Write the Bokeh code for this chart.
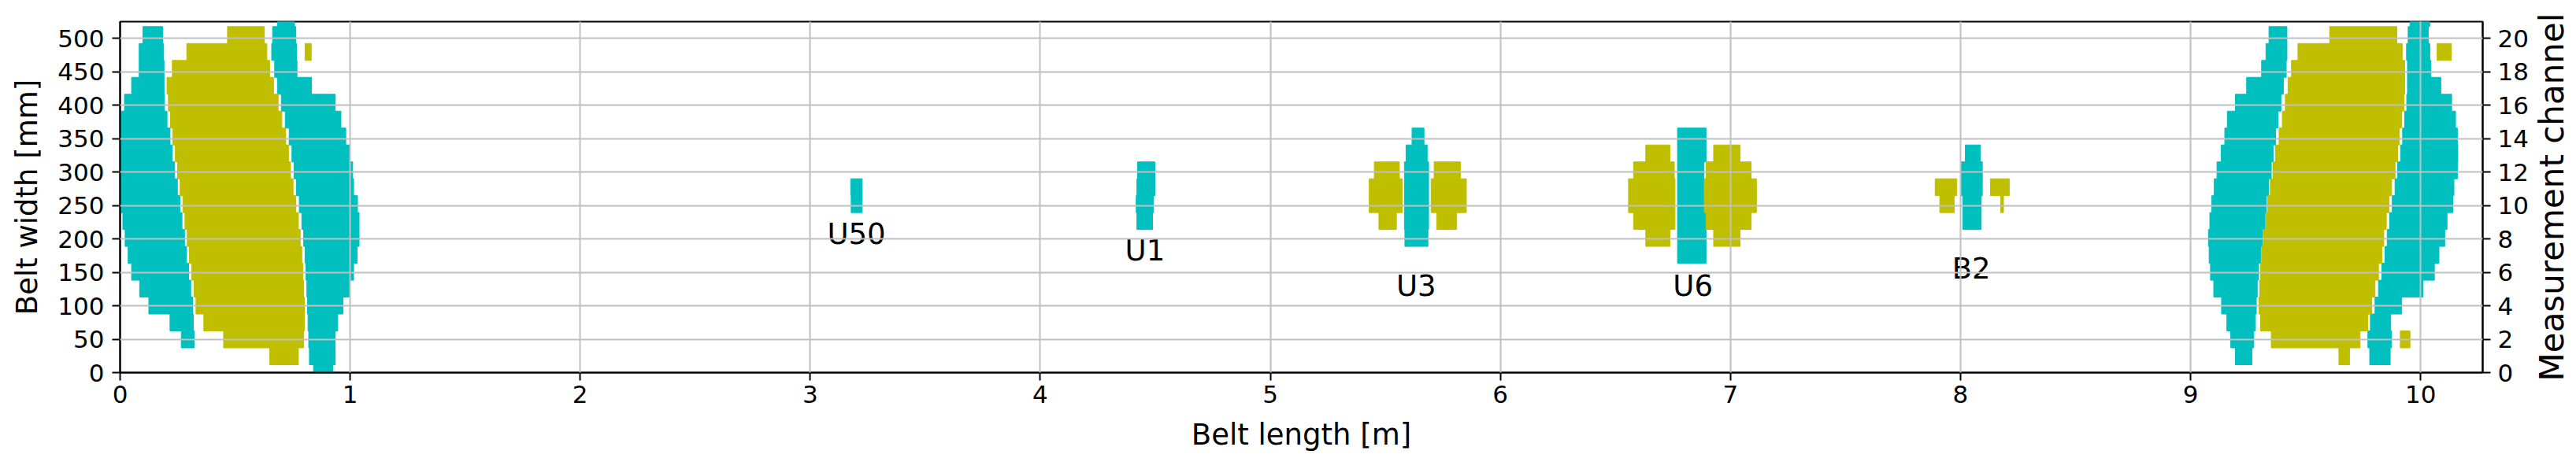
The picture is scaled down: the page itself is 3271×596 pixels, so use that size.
import math
from bokeh.plotting import figure
from bokeh.layouts import row
from bokeh.models import Range1d, LinearAxis, FixedTicker, Title
from bokeh.embed import file_html
from bokeh.resources import INLINE
from bokeh.core.properties import value

CYAN = "#00bfbf"
OLIVE = "#bfbf00"
FONT = "DejaVu Sans"

# channel pitch on the belt (mm) and offset of channel centres
MM_PER_CHANNEL = 25.29
CH_OFFSET_MM = -0.88

# ---------------- data (belt length in m, per measurement channel) ----------------
# left end blob
A_ch = list(range(2, 21))
A_left = [0.266, 0.217, 0.125, 0.085, 0.050, 0.035, 0.022, 0.012, 0.005, 0.0, 0.0, 0.0, 0.0, 0.007, 0.019, 0.050, 0.083, 0.083, 0.099]
A_right = [0.322, 0.318, 0.315, 0.307, 0.298, 0.289, 0.280, 0.269, 0.260, 0.249, 0.237, 0.227, 0.217, 0.204, 0.193, 0.191, 0.191, 0.189, 0.185]

B_ch = list(range(1, 21))
B_left = [0.650, 0.450, 0.364, 0.330, 0.321, 0.311, 0.301, 0.292, 0.282, 0.273, 0.261, 0.250, 0.240, 0.229, 0.219, 0.210, 0.204, 0.227, 0.290, 0.467]
B_right = [0.775, 0.798, 0.801, 0.801, 0.798, 0.795, 0.790, 0.783, 0.775, 0.764, 0.752, 0.741, 0.732, 0.720, 0.703, 0.687, 0.667, 0.650, 0.638, 0.627]

C_ch = list(range(0, 22))
C_left = [0.841, 0.823, 0.820, 0.817, 0.815, 0.812, 0.808, 0.804, 0.798, 0.790, 0.779, 0.767, 0.756, 0.747, 0.735, 0.718, 0.701, 0.684, 0.672, 0.659, 0.663, 0.684]
C_right = [0.924, 0.935, 0.935, 0.946, 0.969, 0.998, 1.015, 1.030, 1.039, 1.039, 1.032, 1.015, 1.011, 0.998, 0.981, 0.960, 0.935, 0.832, 0.769, 0.767, 0.764, 0.758]

Bs_ch = [19]
Bs_left = [0.804]
Bs_right = [0.831]

# middle objects
U50_ch = [10, 11]
U50_left = [3.178, 3.176]
U50_right = [3.226, 3.226]

U1_ch = [9, 10, 11, 12]
U1_left = [4.420, 4.417, 4.420, 4.423]
U1_right = [4.488, 4.492, 4.498, 4.498]

U3L_ch = [9, 10, 11, 12]
U3L_left = [5.472, 5.430, 5.430, 5.452]
U3L_right = [5.548, 5.574, 5.574, 5.561]
U3C_ch = [8, 9, 10, 11, 12, 13, 14]
U3C_left = [5.585, 5.583, 5.583, 5.583, 5.583, 5.590, 5.616]
U3C_right = [5.685, 5.688, 5.688, 5.688, 5.688, 5.682, 5.668]
U3R_ch = [9, 10, 11, 12]
U3R_left = [5.723, 5.699, 5.699, 5.712]
U3R_right = [5.810, 5.852, 5.852, 5.826]

U6L_ch = [8, 9, 10, 11, 12, 13]
U6L_left = [6.632, 6.579, 6.557, 6.557, 6.579, 6.632]
U6L_right = [6.737, 6.759, 6.759, 6.759, 6.756, 6.737]
U6C_ch = [7, 8, 9, 10, 11, 12, 13, 14]
U6C_left = [6.770, 6.770, 6.770, 6.770, 6.770, 6.770, 6.770, 6.770]
U6C_right = [6.894, 6.894, 6.894, 6.885, 6.885, 6.885, 6.894, 6.894]
U6R_ch = [8, 9, 10, 11, 12, 13]
U6R_left = [6.927, 6.894, 6.887, 6.887, 6.894, 6.927]
U6R_right = [7.042, 7.090, 7.113, 7.113, 7.090, 7.042]

B2C_ch = [9, 10, 11, 12, 13]
B2C_left = [8.010, 8.010, 8.001, 8.001, 8.021]
B2C_right = [8.090, 8.090, 8.095, 8.095, 8.087]
B2L_ch = [10, 11]
B2L_left = [7.910, 7.890]
B2L_right = [7.973, 7.984]
B2R_ch = [10, 11]
B2R_left = [8.175, 8.130]
B2R_right = [8.187, 8.212]

# right end blob
D_ch = list(range(1, 21))
D_left = [9.195, 9.175, 9.158, 9.135, 9.101, 9.087, 9.081, 9.078, 9.084, 9.092, 9.103, 9.115, 9.133, 9.149, 9.160, 9.195, 9.244, 9.309, 9.328, 9.341]
D_right = [9.267, 9.275, 9.282, 9.286, 9.290, 9.296, 9.305, 9.313, 9.324, 9.330, 9.339, 9.351, 9.359, 9.370, 9.381, 9.393, 9.404, 9.416, 9.419, 9.419]

E_ch = list(range(1, 21))
E_left = [9.645, 9.351, 9.304, 9.298, 9.301, 9.305, 9.309, 9.316, 9.328, 9.336, 9.347, 9.359, 9.370, 9.385, 9.399, 9.412, 9.424, 9.439, 9.467, 9.605]
E_right = [9.691, 9.737, 9.771, 9.788, 9.802, 9.817, 9.832, 9.840, 9.851, 9.863, 9.874, 9.889, 9.900, 9.908, 9.918, 9.928, 9.931, 9.931, 9.920, 9.897]

F_ch = list(range(1, 22))
F_left = [9.779, 9.771, 9.782, 9.802, 9.817, 9.832, 9.845, 9.855, 9.866, 9.877, 9.889, 9.900, 9.914, 9.922, 9.931, 9.940, 9.943, 9.943, 9.939, 9.946, 9.954]
F_right = [9.868, 9.874, 9.870, 9.918, 10.010, 10.060, 10.080, 10.105, 10.115, 10.140, 10.145, 10.160, 10.162, 10.160, 10.152, 10.135, 10.088, 10.045, 10.040, 10.034, 10.040]

Es1_ch = [19]
Es1_left = [10.072]
Es1_right = [10.134]
Es2_ch = [2]
Es2_left = [9.912]
Es2_right = [9.954]

# annotations (label centres)
ann_text = ["U50", "U1", "U3", "U6", "B2"]
ann_x = [3.201, 4.455, 5.634, 6.837, 8.047]
ann_y = [206.8, 182.4, 129.4, 129.4, 155.9]

x_ticks = list(range(0, 11))
y_ticks = list(range(0, 501, 50))
ch_ticks = list(range(0, 21, 2))

X_MAX = 10.27
Y_MAX = 525
CH_MAX = 21

cyan_pieces = [
    (A_ch, A_left, A_right), (C_ch, C_left, C_right),
    (U50_ch, U50_left, U50_right), (U1_ch, U1_left, U1_right),
    (U3C_ch, U3C_left, U3C_right), (U6C_ch, U6C_left, U6C_right),
    (B2C_ch, B2C_left, B2C_right),
    (D_ch, D_left, D_right), (F_ch, F_left, F_right),
]
olive_pieces = [
    (B_ch, B_left, B_right), (Bs_ch, Bs_left, Bs_right),
    (U3L_ch, U3L_left, U3L_right), (U3R_ch, U3R_left, U3R_right),
    (U6L_ch, U6L_left, U6L_right), (U6R_ch, U6R_left, U6R_right),
    (B2L_ch, B2L_left, B2L_right), (B2R_ch, B2R_left, B2R_right),
    (E_ch, E_left, E_right), (Es1_ch, Es1_left, Es1_right), (Es2_ch, Es2_left, Es2_right),
]

# ---------------- layout sizes ----------------
BORDER_L, BORDER_T, BORDER_R, BORDER_B = 152, 27, 58, 110
FRAME_W, FRAME_H = 3000, 446

p = figure(frame_width=FRAME_W, frame_height=FRAME_H,
           x_range=Range1d(0, X_MAX), y_range=Range1d(0, Y_MAX),
           output_backend="svg", toolbar_location=None,
           min_border_left=BORDER_L, min_border_top=BORDER_T,
           min_border_right=BORDER_R, min_border_bottom=BORDER_B,
           background_fill_color="white", border_fill_color="white")
p.extra_y_ranges = {"ch": Range1d(0, CH_MAX)}


def draw(pieces, color):
    for ch, left, right in pieces:
        ys = [c * MM_PER_CHANNEL + CH_OFFSET_MM for c in ch]
        p.hbar(y=ys, height=MM_PER_CHANNEL, left=left, right=right,
               fill_color=color, line_color=color, line_width=1)


draw(cyan_pieces, CYAN)
draw(olive_pieces, OLIVE)

p.text(x=ann_x, y=ann_y, text=ann_text, text_font=value(FONT), text_font_size="37px",
       text_align="center", text_baseline="middle", text_color="black")

right_axis = LinearAxis(y_range_name="ch")
p.add_layout(right_axis, "right")

p.xaxis.axis_label = "Belt length [m]"
p.yaxis[0].axis_label = "Belt width [mm]"
p.xaxis.ticker = FixedTicker(ticks=x_ticks)
p.yaxis[0].ticker = FixedTicker(ticks=y_ticks)
right_axis.ticker = FixedTicker(ticks=ch_ticks)

for ax in [p.xaxis[0], p.yaxis[0], right_axis]:
    ax.major_label_text_font = FONT
    ax.major_label_text_font_size = "31px"
    ax.major_label_text_color = "black"
    ax.axis_label_text_font = FONT
    ax.axis_label_text_font_size = "37px"
    ax.axis_label_text_font_style = "normal"
    ax.axis_label_text_color = "black"
    ax.major_tick_out = 10
    ax.major_tick_in = 0
    ax.minor_tick_line_color = None
    ax.major_tick_line_width = 2
    ax.major_tick_line_color = "black"
    ax.axis_line_width = 2
    ax.axis_line_color = "black"

p.xaxis.major_label_standoff = 6
p.xaxis.axis_label_standoff = 16
p.yaxis[0].major_label_standoff = 10
p.yaxis[0].axis_label_standoff = 14
right_axis.major_label_standoff = 9

p.outline_line_color = "black"
p.outline_line_width = 2
p.outline_line_alpha = 1

p.xgrid.ticker = FixedTicker(ticks=x_ticks[1:])
p.ygrid.ticker = FixedTicker(ticks=y_ticks[1:])
for g in (p.xgrid, p.ygrid):
    g.grid_line_color = "#c0c0c0"
    g.grid_line_width = 2
    g.level = "overlay"

# narrow strip holding the right-hand axis title (reads bottom to top)
s = figure(frame_width=1, frame_height=FRAME_H,
           x_axis_type=None, y_axis_type=None,
           min_border_left=0, min_border_right=0,
           min_border_top=BORDER_T, min_border_bottom=BORDER_B,
           output_backend="svg", toolbar_location=None,
           outline_line_color=None, background_fill_color="white", border_fill_color="white")
s.add_layout(Title(text="Measurement channel", align="center", standoff=0, offset=0,
                   text_font=FONT, text_font_size="42px", text_font_style="normal",
                   text_color="black"), "left")

layout = row(p, s, spacing=0)
open("out.html", "w").write(file_html(layout, INLINE))
